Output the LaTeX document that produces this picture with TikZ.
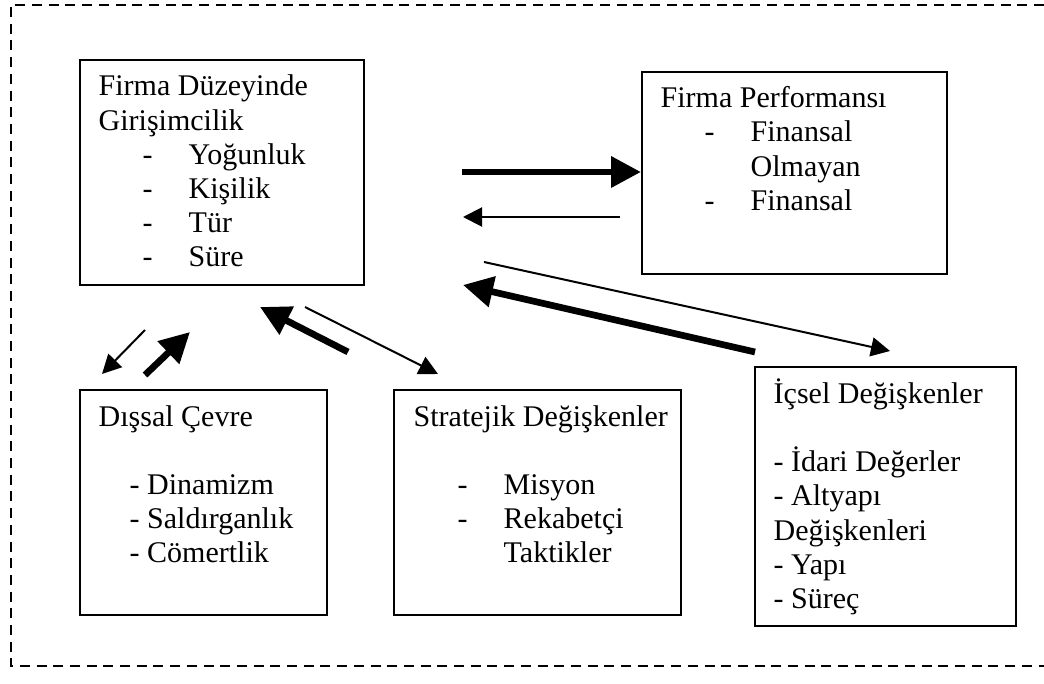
\documentclass[tikz,border=0pt]{standalone}
\usepackage{fontspec}
\setmainfont{Liberation Serif}
\usetikzlibrary{arrows.meta}

% stacked text lines with a fixed line pitch
\newcommand\txtlines[1]{\vtop{\baselineskip=34.2pt\lineskiplimit=-100pt\lineskip=0pt\relax #1}}
\newcommand\plainline[1]{\hbox{#1}}
\newcommand\itm[1]{\hbox{\hspace*{44pt}\makebox[46pt][l]{-}#1}}
\newcommand\cont[1]{\hbox{\hspace*{90pt}#1}}
\newcommand\sitm[1]{\hbox{\hspace*{31pt}- #1}}

\tikzset{
  panel/.style={draw=black, line width=1.6pt, inner sep=0pt, anchor=north west, fill=none},
  paneltext/.style={anchor=base west, inner sep=0pt, font=\fontsize{30}{34.2}\selectfont},
  frameline/.style={draw=black, line width=2.4pt, dash pattern=on 10pt off 6.7pt},
  heavy/.style={line width=6.7pt, -{Triangle[length=30pt,width=30pt]}},
  light/.style={line width=2pt, -{Triangle[length=19pt,width=19pt]}},
}

\begin{document}
\begin{tikzpicture}[x=1pt, y=-1pt]
  \useasboundingbox[fill=white] (0,0) rectangle (1044,684);

  % dashed outer frame (its right side lies beyond the page edge)
  \draw[frameline] (1044,5) -- (10.7,5) -- (10.7,666) -- (1044,666);

  % panels
  \node[panel, minimum width=284pt, minimum height=225pt] (fdg) at (79,59) {};
  \node[panel, minimum width=305pt, minimum height=202pt] (perf) at (641,71) {};
  \node[panel, minimum width=247pt, minimum height=225pt] (dis) at (79,389) {};
  \node[panel, minimum width=287pt, minimum height=225pt] (str) at (393,389) {};
  \node[panel, minimum width=261pt, minimum height=259pt] (ics) at (754,366) {};

  % panel texts
  \node[paneltext] (fdgT) at (98.5,96) {\txtlines{%
    \plainline{Firma Düzeyinde}
    \plainline{Girişimcilik}
    \itm{Yoğunluk}
    \itm{Kişilik}
    \itm{Tür}
    \itm{Süre}}};
  \node[paneltext] (perfT) at (660.5,107.7) {\txtlines{%
    \plainline{Firma Performansı}
    \itm{Finansal}
    \cont{Olmayan}
    \itm{Finansal}}};
  \node[paneltext] (disT) at (98.5,426) {\txtlines{%
    \plainline{Dışsal Çevre}
    \plainline{}
    \sitm{Dinamizm}
    \sitm{Saldırganlık}
    \sitm{Cömertlik}}};
  \node[paneltext] (strT) at (413.5,426) {\txtlines{%
    \plainline{Stratejik Değişkenler}
    \plainline{}
    \itm{Misyon}
    \itm{Rekabetçi}
    \cont{Taktikler}}};
  \node[paneltext] (icsT) at (773.5,403.3) {\txtlines{%
    \plainline{İçsel Değişkenler}
    \plainline{}
    \plainline{- İdari Değerler}
    \plainline{- Altyapı}
    \plainline{Değişkenleri}
    \plainline{- Yapı}
    \plainline{- Süreç}}};

  % arrow end points in the gaps between panels
  \coordinate (fp1) at (462,172);
  \coordinate (pf1) at (620,217);
  \coordinate (pf2) at (463,217);
  \coordinate (fd1) at (145,330);
  \coordinate (fd2) at (102,374);
  \coordinate (df1) at (145,375);
  \coordinate (df2) at (190,332);
  \coordinate (sf1) at (348,352);
  \coordinate (sf2) at (260,307);
  \coordinate (fs1) at (305,307);
  \coordinate (fs2) at (438,374);
  \coordinate (fi1) at (484,262);
  \coordinate (fi2) at (890,351);
  \coordinate (if1) at (755,352);
  \coordinate (if2) at (463,285);

  % connectors
  \draw[heavy] (fp1) -- (perf.west |- fp1);
  \draw[light] (pf1) -- (pf2);
  \draw[light] (fd1) -- (fd2);
  \draw[heavy] (df1) -- (df2);
  \draw[heavy] (sf1) -- (sf2);
  \draw[light] (fs1) -- (fs2);
  \draw[light] (fi1) -- (fi2);
  \draw[heavy] (if1) -- (if2);
\end{tikzpicture}
\end{document}
